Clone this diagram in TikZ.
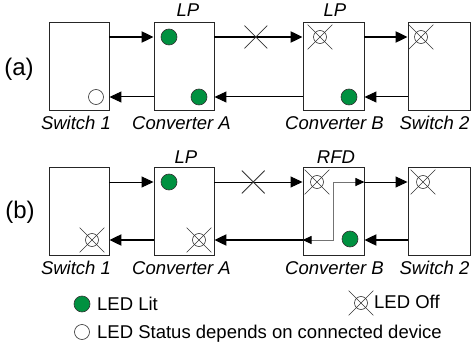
\documentclass[tikz,border=0pt]{standalone}
\usepackage{fontspec}
\setmainfont{Liberation Sans}
\usetikzlibrary{arrows.meta,shapes.misc}
\definecolor{ledgreen}{RGB}{0,145,64}
\begin{document}
\begin{tikzpicture}[x=1pt,y=-1pt,
  box/.style={draw=black!85, line width=0.9pt, minimum width=60pt, minimum height=88pt, inner sep=0pt},
  lbl/.style={font=\fontsize{18.5}{22}\selectfont\itshape, anchor=base, inner sep=0pt},
  leg/.style={font=\fontsize{18.5}{22}\selectfont, anchor=base west, inner sep=0pt},
  side/.style={font=\fontsize{24}{28}\selectfont, inner sep=0pt},
  thickarr/.style={line width=2.2pt, -{Triangle[length=12pt,width=11pt]}},
  thinarr/.style={line width=1pt, -{Triangle[length=12pt,width=11pt]}},
  grayarr/.style={draw=black!55, line width=1pt, {Triangle[length=9pt,width=8pt,color=black]}-{Triangle[length=9pt,width=8pt,color=black]}},
  ledon/.style={circle, draw=black!80, line width=0.6pt, fill=ledgreen, minimum size=16pt, inner sep=0pt},
  ledwhite/.style={circle, draw=black!80, line width=0.6pt, fill=white, minimum size=15pt, inner sep=0pt},
  ledoff/.style={circle, draw=black!80, line width=0.6pt, minimum size=13pt, inner sep=0pt},
  xcross/.style={cross out, draw=black!80, line width=0.6pt, minimum size=24pt, inner sep=0pt},
  linex/.style={cross out, draw=black!80, line width=0.8pt, minimum size=22pt, inner sep=0pt}
]
\useasboundingbox (0,0) rectangle (471,342);

% ---------- (a) ----------
\node[side] (la) at (19,69) {(a)};
\node[box] (sw1a) at (79,66) {};
\node[box] (cva) at (184,66) {};
\node[box, minimum width=61pt] (cvb) at (333.5,66) {};
\node[box, minimum width=62pt] (sw2a) at (439,66) {};

\node[lbl] (lpa1) at (188,17) {LP};
\node[lbl] (lpa2) at (335,17) {LP};
\node[lbl] (tsw1a) at (76,130) {Switch 1};
\node[lbl] (tcva) at (181.5,130) {Converter A};
\node[lbl] (tcvb) at (334.5,130) {Converter B};
\node[lbl] (tsw2a) at (434.5,130) {Switch 2};

\draw[thickarr] ([yshift=29pt]sw1a.east) -- ([yshift=29pt]cva.west);
\draw[thickarr] ([yshift=29pt]cva.east) -- node[linex, pos=0.47] (xa) {} ([yshift=29pt]cvb.west);
\draw[thickarr] ([yshift=29pt]cvb.east) -- ([yshift=29pt]sw2a.west);
\draw[thinarr] ([yshift=-31pt]sw2a.west) -- ([yshift=-31pt]cvb.east);
\draw[thinarr] ([yshift=-31pt]cvb.west) -- ([yshift=-31pt]cva.east);
\draw[thinarr] ([yshift=-31pt]cva.west) -- ([yshift=-31pt]sw1a.east);

\node[ledon] (a1) at (169,37) {};
\node[ledon] (a2) at (199,97) {};
\node[ledwhite] (a3) at (96,97) {};
\node[ledoff] (a4) at (320,37) {};
\node[xcross] (a4x) at (a4) {};
\node[ledon] (a5) at (349,97) {};
\node[ledoff] (a6) at (421,37) {};
\node[xcross] (a6x) at (a6) {};

% ---------- (b) ----------
\node[side] (lb) at (20,212) {(b)};
\node[box] (sw1b) at (79,211) {};
\node[box] (cvab) at (184,211) {};
\node[box, minimum width=61pt] (cvbb) at (333.5,211) {};
\node[box, minimum width=62pt] (sw2b) at (439,211) {};

\node[lbl] (lpb1) at (186,164) {LP};
\node[lbl] (rfd) at (336,163) {RFD};
\node[lbl] (tsw1b) at (76,274) {Switch 1};
\node[lbl] (tcvab) at (181.5,274) {Converter A};
\node[lbl] (tcvbb) at (334.5,274) {Converter B};
\node[lbl] (tsw2b) at (434.5,274) {Switch 2};

\draw[thinarr] ([yshift=29pt]sw1b.east) -- ([yshift=29pt]cvab.west);
\draw[thinarr] ([yshift=29pt]cvab.east) -- node[linex, pos=0.44] (xb) {} ([yshift=29pt]cvbb.west);
\draw[thinarr] ([yshift=29pt]cvbb.east) -- ([yshift=29pt]sw2b.west);
\draw[thickarr] ([yshift=-29pt]sw2b.west) -- ([yshift=-29pt]cvbb.east);
\draw[thickarr] ([yshift=-29pt]cvbb.west) -- ([yshift=-29pt]cvab.east);
\draw[thickarr] ([yshift=-29pt]cvab.west) -- ([yshift=-29pt]sw1b.east);
\draw[grayarr] ([yshift=-29pt]cvbb.west) -| ([yshift=29pt]cvbb.center) -- ([yshift=29pt]cvbb.east);

\node[ledon] (b1) at (169,182) {};
\node[ledoff] (b2) at (92,240) {};
\node[xcross] (b2x) at (b2) {};
\node[ledoff] (b3) at (199,240) {};
\node[xcross] (b3x) at (b3) {};
\node[ledoff] (b4) at (317,182) {};
\node[xcross] (b4x) at (b4) {};
\node[ledon] (b5) at (350,239) {};
\node[ledoff] (b6) at (423,182) {};
\node[xcross] (b6x) at (b6) {};

% ---------- legend ----------
\node[ledon] (g1) at (82,304) {};
\node[leg] (g1t) at (97,310) {LED Lit};
\node[ledwhite] (g2) at (82,332) {};
\node[leg] (g2t) at (97,338) {LED Status depends on connected device};
\node[ledoff] (g3) at (361,303) {};
\node[xcross] (g3x) at (g3) {};
\node[leg] (g3t) at (374,308) {LED Off};
\end{tikzpicture}
\end{document}
